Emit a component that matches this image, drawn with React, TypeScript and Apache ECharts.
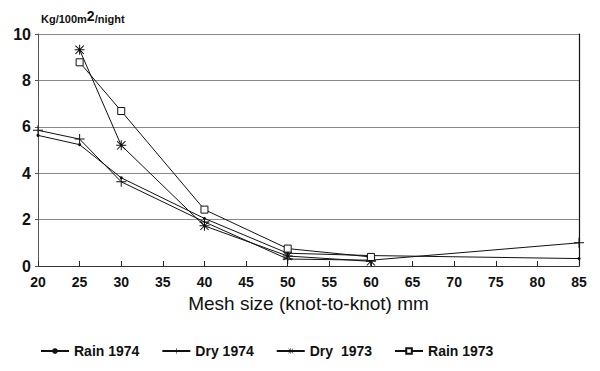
import React, { useEffect, useRef } from "react";
import * as echarts from "echarts";

const meshRain1974: number[] = [20, 25, 30, 40, 50, 60, 85];
const valRain1974: number[] = [5.63, 5.23, 3.8, 2.05, 0.55, 0.45, 0.32];
const meshDry1974: number[] = [20, 25, 30, 40, 50, 60, 85];
const valDry1974: number[] = [5.85, 5.47, 3.63, 1.9, 0.3, 0.25, 1.0];
const meshDry1973: number[] = [25, 30, 40, 50, 60];
const valDry1973: number[] = [9.32, 5.2, 1.73, 0.43, 0.2];
const meshRain1973: number[] = [25, 30, 40, 50, 60];
const valRain1973: number[] = [8.78, 6.68, 2.43, 0.75, 0.39];
const seriesNames: string[] = ["Rain 1974", "Dry 1974", "Dry  1973", "Rain 1973"];

const pair = (xs: number[], ys: number[]) => xs.map((x, i) => [x, ys[i]]);

const plusPath = "path://M4.5,0h1v10h-1z M0,4.5h10v1h-10z";
const starPath =
  "path://M4.5,0h1v10h-1z M0,4.5h10v1h-10z M1.2,0.5L9.5,8.8L8.8,9.5L0.5,1.2z M8.8,0.5L9.5,1.2L1.2,9.5L0.5,8.8z";

export default function App() {
  const ref = useRef<HTMLDivElement>(null);
  useEffect(() => {
    if (!ref.current) return;
    const chart = echarts.init(ref.current, null, { renderer: "svg" });
    const font = "Arial, 'Liberation Sans', sans-serif";
    const lineStyle = { color: "#111", width: 1 };
    chart.setOption({
      animation: false,
      backgroundColor: "#fff",
      textStyle: { fontFamily: font },
      title: {
        text: "Kg/100m{sup|2}/night",
        left: 36,
        top: 4,
        textStyle: {
          fontSize: 11,
          fontWeight: "bold",
          color: "#111",
          fontFamily: font,
          rich: {
            sup: { fontSize: 14, fontWeight: "bold", color: "#111", verticalAlign: "top", padding: [0, 0, 6, 0] },
          },
        },
      },
      grid: { left: 38, right: 21, top: 34, bottom: 105, containLabel: false },
      legend: {
        top: 339,
        left: 35,
        itemWidth: 28,
        itemHeight: 7,
        itemGap: 22,
        textStyle: { fontSize: 14, fontWeight: "bold", color: "#111", fontFamily: font },
        data: seriesNames,
      },
      xAxis: {
        type: "value",
        min: 20,
        max: 85,
        interval: 5,
        name: "Mesh size (knot-to-knot) mm",
        nameLocation: "middle",
        nameGap: 26,
        nameTextStyle: { fontSize: 19, color: "#111", fontFamily: font },
        axisLine: { show: true, lineStyle: { color: "#333", width: 1 } },
        axisTick: { show: true, inside: true, length: 5, lineStyle: { color: "#222" } },
        axisLabel: { fontSize: 14, fontWeight: "bold", color: "#111", margin: 9 },
        splitLine: { show: false },
      },
      yAxis: [
        {
          type: "value",
          min: 0,
          max: 10,
          interval: 2,
          axisLine: { show: true, lineStyle: { color: "#555", width: 1 } },
          axisTick: { show: true, length: 3, lineStyle: { color: "#555" } },
          axisLabel: { fontSize: 16, fontWeight: "bold", color: "#111", margin: 7 },
          splitLine: { show: true, lineStyle: { color: "#888", width: 1 } },
        },
        {
          type: "value",
          min: 0,
          max: 10,
          interval: 2,
          position: "right",
          axisLine: { show: true, lineStyle: { color: "#111", width: 1.2 } },
          axisTick: { show: false },
          axisLabel: { show: false },
          splitLine: { show: false },
        },
      ],
      series: [
        {
          name: seriesNames[0],
          type: "line",
          data: pair(meshRain1974, valRain1974),
          symbol: "circle",
          symbolSize: 3,
          lineStyle,
          itemStyle: { color: "#111" },
        },
        {
          name: seriesNames[1],
          type: "line",
          data: pair(meshDry1974, valDry1974),
          symbol: plusPath,
          symbolSize: 10,
          lineStyle,
          itemStyle: { color: "#111" },
        },
        {
          name: seriesNames[2],
          type: "line",
          data: pair(meshDry1973, valDry1973),
          symbol: starPath,
          symbolSize: 10,
          lineStyle,
          itemStyle: { color: "#111" },
        },
        {
          name: seriesNames[3],
          type: "line",
          data: pair(meshRain1973, valRain1973),
          symbol: "rect",
          symbolSize: 7,
          lineStyle,
          itemStyle: { color: "#fff", borderColor: "#111", borderWidth: 1 },
        },
      ],
    });
    return () => chart.dispose();
  }, []);
  return <div ref={ref} style={{ width: 600, height: 371, margin: -8 }} />;
}
